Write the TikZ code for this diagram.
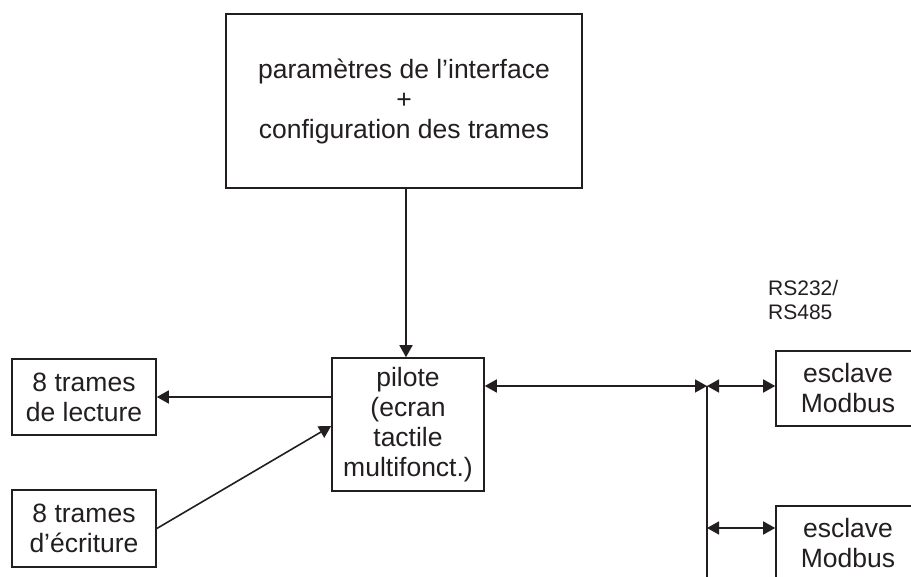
\documentclass[tikz,border=0pt]{standalone}
\usepackage{fontspec}
\setmainfont{Liberation Sans}
\usetikzlibrary{arrows.meta,calc}
\definecolor{ink}{HTML}{231F20}
\begin{document}
\begin{tikzpicture}[x=1pt,y=-1pt,
  box/.style={draw=ink, line width=1.6pt, text=ink, align=center, inner sep=0pt,
    font=\fontsize{26.5}{30}\selectfont},
  conn/.style={draw=ink, line width=1.6pt},
  onetip/.style={-{Triangle[length=12pt,width=13pt]}},
  twotips/.style={{Triangle[length=12pt,width=13pt]}-{Triangle[length=12pt,width=13pt]}},
  lbl/.style={text=ink, align=left, inner sep=0pt, font=\fontsize{21}{23.5}\selectfont}
]
\useasboundingbox (0,0) rectangle (911,577);
\clip (0,0) rectangle (911,577);
\fill[white] (0,0) rectangle (911,577);

\node[box, minimum width=356pt, minimum height=174pt] (top) at (404,101)
  {paramètres de l’interface\\+\\configuration des trames};
\node[box, minimum width=152pt, minimum height=133pt] (pilote) at (408,424.5)
  {pilote\\(ecran\\tactile\\multifonct.)};
\node[box, minimum width=144pt, minimum height=76pt] (lecture) at (84,397)
  {8 trames\\de lecture};
\node[box, minimum width=144pt, minimum height=77pt] (ecriture) at (84,528.5)
  {8 trames\\d’écriture};
\node[box, minimum width=144pt, minimum height=75pt] (esc1) at (848,388.5)
  {esclave\\Modbus};
\node[box, minimum width=144pt, minimum height=75pt] (esc2) at (848,543.5)
  {esclave\\Modbus};
\node[lbl, anchor=west] (rs) at (768,300) {RS232/\\RS485};

\coordinate (bus1) at (707,386);
\coordinate (bus2) at (707,528);
\coordinate (busend) at (707,590);

\draw[conn, onetip] (top.south -| 406,0) -- (pilote.north -| 406,0);
\draw[conn, onetip] (pilote.west |- lecture.east) -- (lecture.east);
\draw[conn, onetip] (ecriture.east) -- ($(pilote.west)+(0,1.5)$);
\draw[conn, twotips] (pilote.east |- bus1) -- (bus1);
\draw[conn, twotips] (bus1) -- (esc1.west |- bus1);
\draw[conn, twotips] (bus2) -- (esc2.west |- bus2);
\draw[conn] (bus1) -- (busend);
\end{tikzpicture}
\end{document}
